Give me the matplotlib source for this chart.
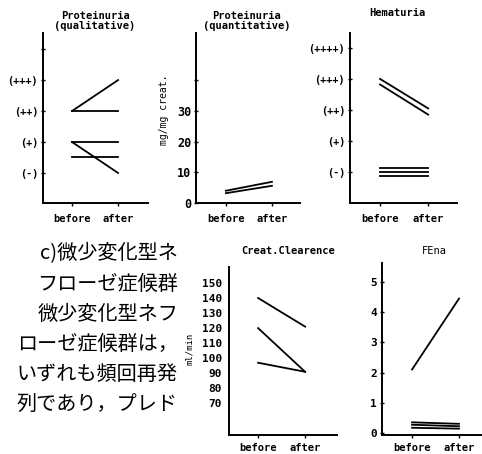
import matplotlib.pyplot as plt

# grade scale: (-)=0, (+)=1, (++)=2, (+++)=3, (++++)=4
prot_qual_before = [2, 2, 1, 1, 0.5]
prot_qual_after = [3, 2, 1, 0, 0.5]
prot_qual_ticks = [0, 1, 2, 3]
prot_qual_labels = ['(-)', '(+)', '(++)', '(+++)']

prot_quant_before = [3.2, 4.0]
prot_quant_after = [5.6, 6.9]
prot_quant_ticks = [0, 10, 20, 30]

hema_before = [3.0, 2.82, 0.12, 0.0, -0.12]
hema_after = [2.05, 1.85, 0.12, 0.0, -0.12]
hema_ticks = [0, 1, 2, 3, 4]
hema_labels = ['(-)', '(+)', '(++)', '(+++)', '(++++)']

ccr_before = [140, 120, 97]
ccr_after = [121, 91, 91]
ccr_ticks = [70, 80, 90, 100, 110, 120, 130, 140, 150]

fena_before = [2.1, 0.35, 0.27, 0.17]
fena_after = [4.45, 0.30, 0.22, 0.14]
fena_ticks = [0, 1, 2, 3, 4, 5]

phase_labels = ['before', 'after']

text_lines = ['c)微少変化型ネ', 'フローゼ症候群', '微少変化型ネフ',
              'ローゼ症候群は，', 'いずれも頻回再発', '列であり，プレド']
text_y = [254, 284, 314, 344, 374, 404]

W, H = 482, 454
fig = plt.figure(figsize=(W / 100, H / 100), dpi=100)
mono = 'DejaVu Sans Mono'


def style_labels(labels, size):
    for lab in labels:
        lab.set_fontfamily(mono)
        lab.set_fontweight('bold')
        lab.set_fontsize(size)


def panel(x0, x1, ytop, ybot, xlim, ylim, xpad):
    ax = fig.add_axes([x0 / W, 1 - ybot / H, (x1 - x0) / W, (ybot - ytop) / H])
    ax.set_xlim(*xlim)
    ax.set_ylim(*ylim)
    for s in ['top', 'right']:
        ax.spines[s].set_visible(False)
    for s in ['left', 'bottom']:
        ax.spines[s].set_linewidth(1.4)
    ax.set_xticks([0, 1], phase_labels)
    ax.tick_params(axis='x', length=2, width=1, pad=xpad)
    ax.tick_params(axis='y', length=3, width=1, direction='inout', pad=2)
    style_labels(ax.get_xticklabels(), 7.5)
    return ax


def draw(ax, before, after):
    for b, a in zip(before, after):
        ax.plot([0, 1], [b, a], color='black', lw=1.3)


def title(x, y, s, weight='bold'):
    fig.text(x / W, 1 - y / H, s, ha='center', va='center',
             family=mono, fontweight=weight, fontsize=7.5, linespacing=1.1)


# Proteinuria (qualitative)
ax1 = panel(43, 148, 33, 203, (-0.63, 1.65), (-0.97, 4.52), 6)
ax1.set_yticks(prot_qual_ticks + [4], prot_qual_labels + [''])
style_labels(ax1.get_yticklabels(), 7.3)
draw(ax1, prot_qual_before, prot_qual_after)
title(95, 21, 'Proteinuria\n(qualitative)')

# Proteinuria (quantitative)
ax2 = panel(196, 300, 33, 203, (-0.65, 1.61), (0, 55.4), 6)
ax2.set_yticks(prot_quant_ticks + [40], [str(t) for t in prot_quant_ticks] + [''])
style_labels(ax2.get_yticklabels(), 8.5)
ax2.set_ylabel('mg/mg creat.', family=mono, fontsize=7)
ax2.yaxis.set_label_coords(-0.26, 0.55)
draw(ax2, prot_quant_before, prot_quant_after)
title(247, 21, 'Proteinuria\n(quantitative)')

# Hematuria
ax3 = panel(350, 457, 33, 203, (-0.625, 1.6), (-1.0, 4.48), 6)
ax3.set_yticks(hema_ticks, hema_labels)
style_labels(ax3.get_yticklabels(), 7.3)
draw(ax3, hema_before, hema_after)
title(397, 13, 'Hematuria')

# Creatinine clearance
ax4 = panel(229, 337, 267, 435, (-0.62, 1.68), (49, 160.6), 4)
ax4.set_yticks(ccr_ticks, [str(t) for t in ccr_ticks])
ax4.tick_params(axis='y', length=0, pad=5)
style_labels(ax4.get_yticklabels(), 8)
ax4.set_ylabel('ml/min', family=mono, fontsize=6.5)
ax4.yaxis.set_label_coords(-0.32, 0.51)
draw(ax4, ccr_before, ccr_after)
title(288, 251, 'Creat.Clearence')

# FEna
ax5 = panel(382, 482, 263, 435, (-0.64, 1.49), (-0.07, 5.63), 4)
ax5.set_yticks(fena_ticks, [str(t) for t in fena_ticks])
style_labels(ax5.get_yticklabels(), 8)
draw(ax5, fena_before, fena_after)
title(434, 251, 'FEna', weight='normal')

# body text column
for s, y in zip(text_lines, text_y):
    fig.text(178 / W, 1 - y / H, s, ha='right', va='center',
             family=['Noto Sans CJK JP', 'DejaVu Sans'], fontsize=14.5)

fig.savefig('out.png', dpi=100)
